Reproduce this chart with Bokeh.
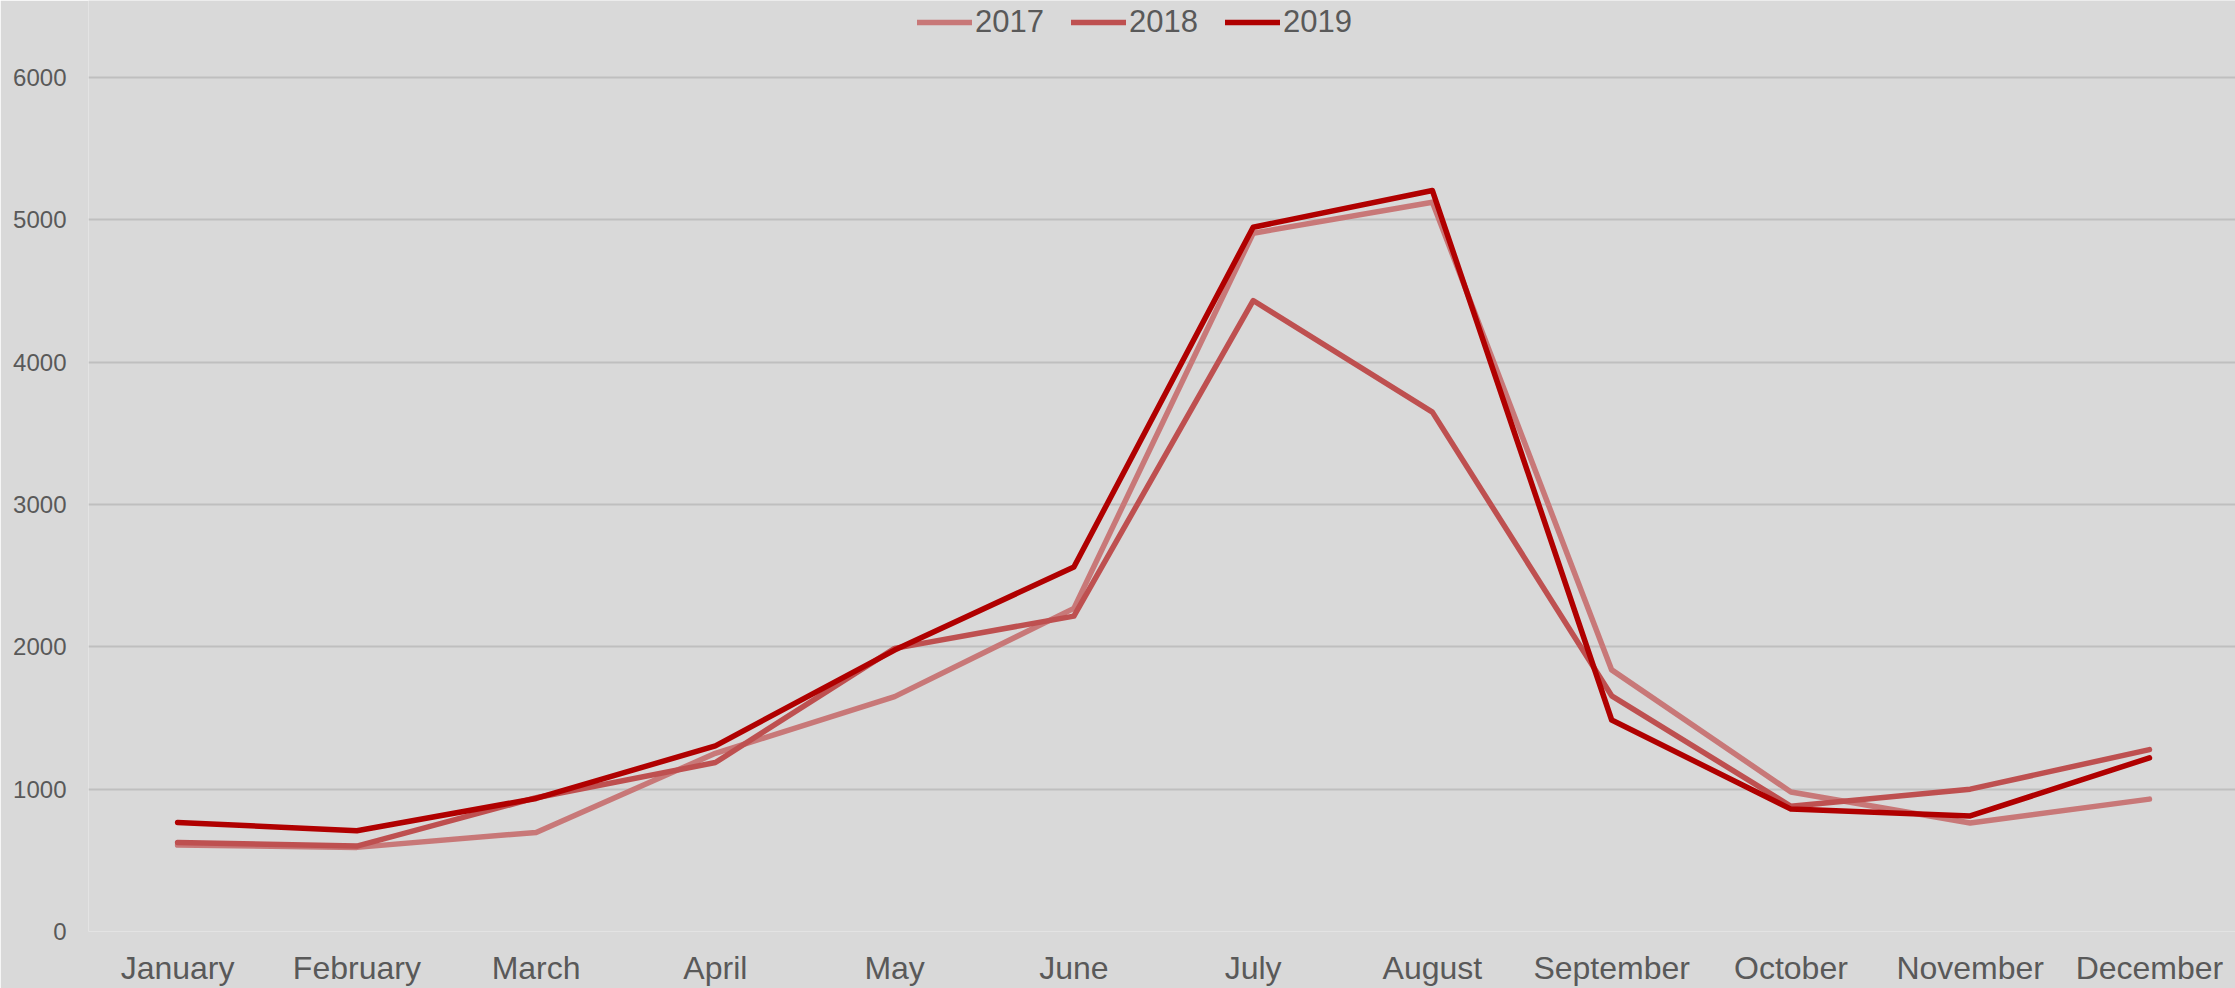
from bokeh.plotting import figure
from bokeh.models import Range1d, FixedTicker
from bokeh.embed import file_html
from bokeh.resources import INLINE

months = ["January", "February", "March", "April", "May", "June", "July",
          "August", "September", "October", "November", "December"]
y2017 = [607, 591, 696, 1252, 1650, 2270, 4906, 5124, 1838, 980, 762, 930]
y2018 = [626, 600, 940, 1187, 1989, 2216, 4433, 3649, 1656, 880, 1000, 1278]
y2019 = [766, 708, 935, 1304, 1977, 2561, 4948, 5206, 1486, 860, 812, 1220]
series = [("2017", y2017, "#C87878"), ("2018", y2018, "#BE5050"), ("2019", y2019, "#B00000")]
y_ticks = [0, 1000, 2000, 3000, 4000, 5000, 6000]

BG = "#D9D9D9"
TXT = "#595959"
FONT = "Liberation Sans"

p = figure(width=2235, height=988, output_backend="svg", toolbar_location=None,
           x_range=Range1d(-0.497, 11.48), y_range=Range1d(0, 6541),
           min_border_left=88, min_border_right=0, min_border_top=0, min_border_bottom=57)
p.background_fill_color = BG
p.border_fill_color = BG
p.outline_line_color = None

xs = list(range(len(months)))
for name, ys, col in series:
    p.line(xs, ys, line_color=col, line_width=5.5, line_cap="round", line_join="round",
           legend_label=name)

# axes
p.xaxis.ticker = FixedTicker(ticks=xs)
p.xaxis.major_label_overrides = {i: m for i, m in enumerate(months)}
p.xaxis.axis_line_color = None
p.xaxis.major_tick_line_color = None
p.xaxis.minor_tick_line_color = None
p.xaxis.major_label_text_font = FONT
p.xaxis.major_label_text_font_size = "32px"
p.xaxis.major_label_text_color = TXT
p.xaxis.major_label_standoff = 12

p.yaxis.ticker = FixedTicker(ticks=y_ticks)
p.yaxis.axis_line_color = None
p.yaxis.major_tick_line_color = None
p.yaxis.minor_tick_line_color = None
p.yaxis.major_label_text_font = FONT
p.yaxis.major_label_text_font_size = "24px"
p.yaxis.major_label_text_color = TXT
p.yaxis.major_label_standoff = 16

p.xgrid.visible = False
p.ygrid.ticker = FixedTicker(ticks=y_ticks[1:])
p.ygrid.grid_line_color = "#BFBFBF"
p.ygrid.grid_line_width = 2

lg = p.legend[0]
lg.orientation = "horizontal"
lg.location = (829, 891)
lg.background_fill_alpha = 0
lg.border_line_color = None
lg.label_text_font = FONT
lg.label_text_font_size = "31px"
lg.label_text_color = TXT
lg.glyph_width = 55
lg.glyph_height = 28
lg.label_height = 28
lg.label_standoff = 3
lg.spacing = 27
lg.padding = 0
lg.margin = 0

html = file_html(p, INLINE)
html = html.replace("<body>", '<body style="background:#D9D9D9">', 1)
open("out.html", "w").write(html)
